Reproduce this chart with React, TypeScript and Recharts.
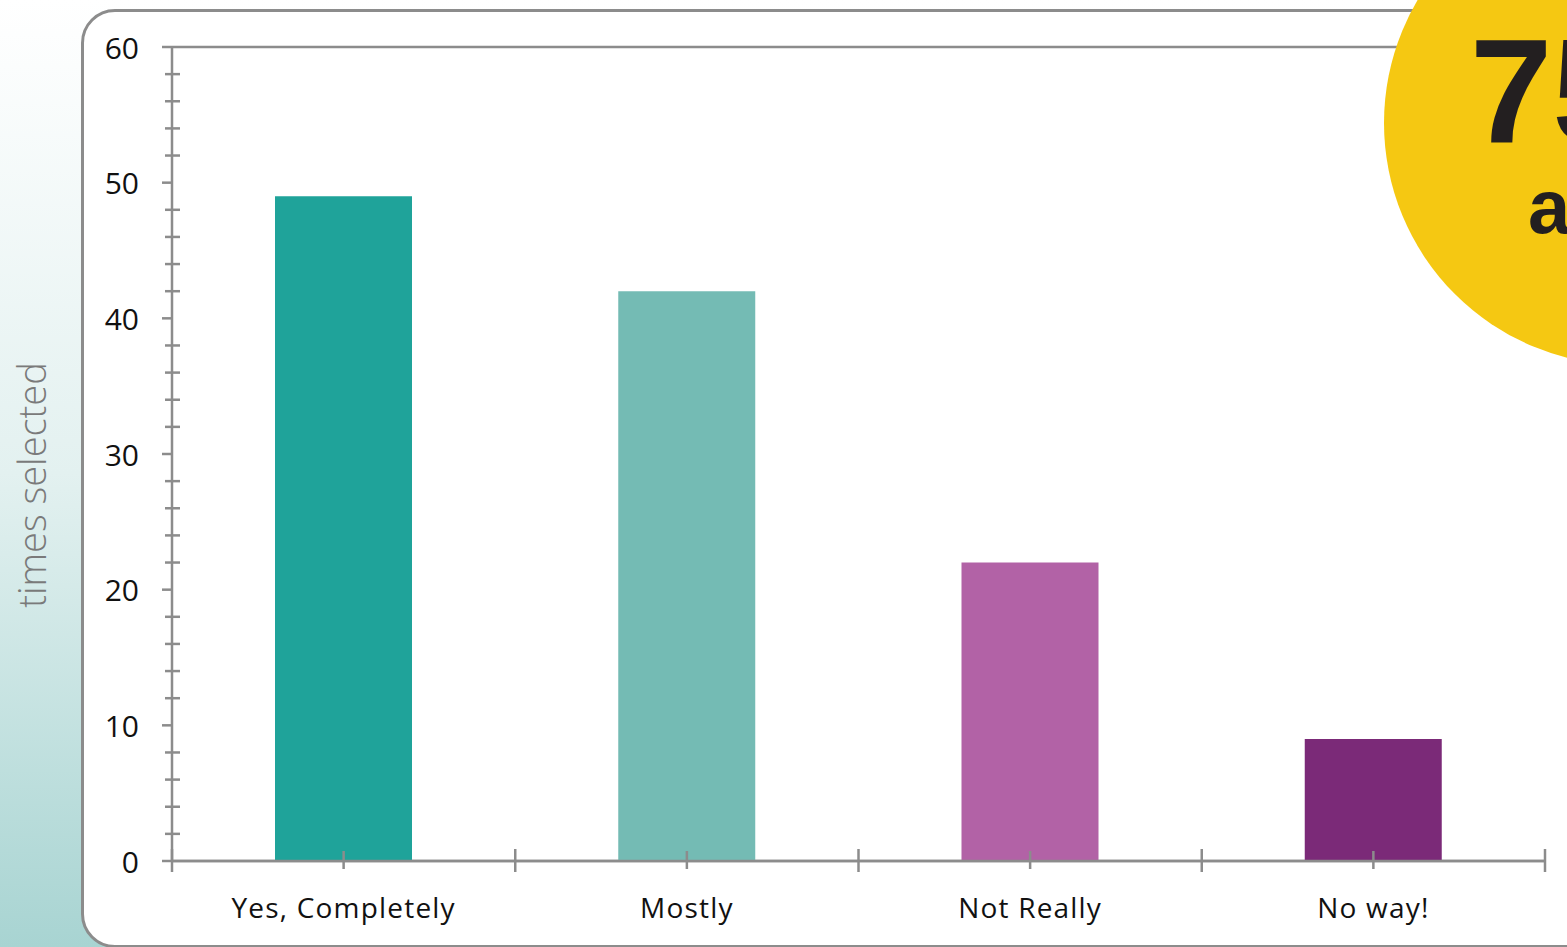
import React from 'react';
import { BarChart, Bar, XAxis, YAxis, CartesianGrid, Cell } from 'recharts';

const categories = ['Yes, Completely', 'Mostly', 'Not Really', 'No way!'];
const values = [49, 42, 22, 9];
const positions = [0.5, 1.5, 2.5, 3.5];
const barColors = ['#1fa39a', '#74bbb4', '#b262a6', '#7b2a78'];
const xTicks = [0, 0.5, 1, 1.5, 2, 2.5, 3, 3.5, 4];
const yMajorTicks = [0, 10, 20, 30, 40, 50, 60];
const yAllTicks = [0, 2, 4, 6, 8, 10, 12, 14, 16, 18, 20, 22, 24, 26, 28, 30, 32, 34, 36, 38, 40, 42, 44, 46, 48, 50, 52, 54, 56, 58, 60];

const data = categories.map((name, i) => ({ name, pos: positions[i], value: values[i] }));

const AXIS = '#8c8c8c';
const FONT = '"Open Sans", "Noto Sans", sans-serif';

const XTick = (props: any) => {
  const { x, y, payload } = props;
  const idx = positions.indexOf(payload.value);
  if (idx >= 0) {
    return (
      <g>
        <line x1={x} x2={x} y1={y - 10} y2={y + 8} stroke={AXIS} strokeWidth={2.5} />
        <text x={x} y={y + 57} textAnchor="middle" fontFamily={FONT} fontSize={28} fill="#111" letterSpacing={1.2}>
          {categories[idx]}
        </text>
      </g>
    );
  }
  return <line x1={x} x2={x} y1={y - 12} y2={y + 11} stroke={AXIS} strokeWidth={2.5} />;
};

const YTick = (props: any) => {
  const { x, y, payload } = props;
  const v = payload.value;
  if (yMajorTicks.includes(v)) {
    return (
      <g>
        <line x1={x - 10} x2={x} y1={y} y2={y} stroke={AXIS} strokeWidth={2.5} />
        <text x={x - 33} y={y} textAnchor="end" dominantBaseline="central" fontFamily={FONT} fontSize={30} fill="#111">
          {v}
        </text>
      </g>
    );
  }
  return <line x1={x - 7} x2={x + 8} y1={y} y2={y} stroke={AXIS} strokeWidth={2.5} />;
};

const YLabel = (props: any) => {
  const vb = props.viewBox || { x: 0, y: 47, width: 172, height: 814 };
  const cx = vb.x + 31;
  const cy = vb.y + vb.height / 2 + 31;
  return (
    <text
      x={cx}
      y={cy}
      transform={`rotate(-90 ${cx} ${cy})`}
      textAnchor="middle"
      dominantBaseline="central"
      fontFamily={FONT}
      fontWeight={300}
      fontSize={38}
      fill="#7a7a7a"
    >
      times selected
    </text>
  );
};

export default function App() {
  return (
    <div
      style={{
        position: 'absolute',
        left: 0,
        top: 0,
        width: 1567,
        height: 947,
        overflow: 'hidden',
        background: 'linear-gradient(to bottom, #ffffff 0%, #e3f1f0 50%, #a8d4d2 100%)',
      }}
    >
      <div
        style={{
          position: 'absolute',
          left: 81,
          top: 9,
          width: 1620,
          height: 933,
          border: '3px solid #8c8c8c',
          borderRadius: 34,
          background: '#ffffff',
        }}
      />
      <div style={{ position: 'absolute', left: 0, top: 0 }}>
        <BarChart width={1567} height={947} data={data} margin={{ top: 47, right: 22, left: 0, bottom: 26 }}>
          <CartesianGrid yAxisId="grid" vertical={false} stroke={AXIS} strokeWidth={2.5} />
          <XAxis
            dataKey="pos"
            type="number"
            domain={[0, 4]}
            ticks={xTicks}
            interval={0}
            allowDecimals
            height={60}
            tickSize={0}
            tickMargin={0}
            tickLine={false}
            tick={<XTick />}
            axisLine={{ stroke: AXIS, strokeWidth: 2.5 }}
          />
          <YAxis
            domain={[0, 60]}
            ticks={yAllTicks}
            interval={0}
            width={172}
            tickSize={0}
            tickMargin={0}
            tickLine={false}
            tick={<YTick />}
            axisLine={{ stroke: AXIS, strokeWidth: 2.5 }}
            label={<YLabel />}
          />
          <YAxis yAxisId="grid" hide domain={[0, 60]} ticks={yMajorTicks} interval={0} />
          <Bar dataKey="value" barSize={137} isAnimationActive={false}>
            {data.map((d, i) => (
              <Cell key={d.name} fill={barColors[i]} />
            ))}
          </Bar>
        </BarChart>
      </div>
      <svg width={1567} height={947} style={{ position: 'absolute', left: 0, top: 0, pointerEvents: 'none' }}>
        <circle cx={1626} cy={123} r={242} fill="#f5c812" />
        <text x={1470} y={143} fontFamily='"Liberation Sans", Arial, sans-serif' fontWeight={700} fontSize={148} fill="#231f20">
          75%
        </text>
        <text x={1528} y={233} fontFamily='"Liberation Sans", Arial, sans-serif' fontWeight={700} fontSize={76} fill="#231f20">
          agree
        </text>
      </svg>
    </div>
  );
}
